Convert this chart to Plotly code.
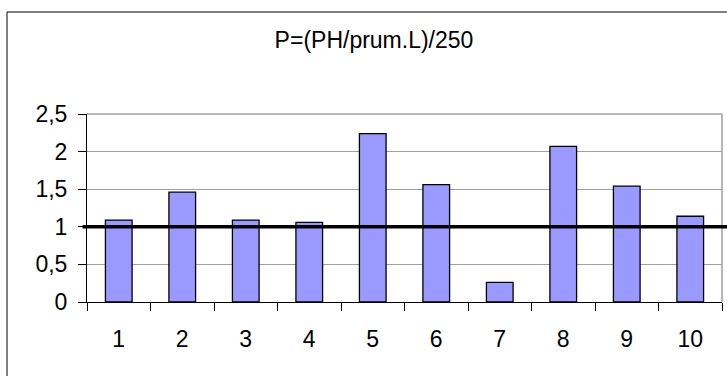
import plotly.graph_objects as go

categories = ["1", "2", "3", "4", "5", "6", "7", "8", "9", "10"]
values = [1.09, 1.46, 1.09, 1.06, 2.24, 1.56, 0.26, 2.07, 1.54, 1.14]
y_ticks = [0, 0.5, 1, 1.5, 2, 2.5]
y_tick_labels = ["0", "0,5", "1", "1,5", "2", "2,5"]
reference_level = 1
title_text = "P=(PH/prum.L)/250"

FONT = "Liberation Sans, Arial, sans-serif"
FS = 23

fig = go.Figure()
fig.add_trace(go.Bar(
    x=categories, y=values,
    marker=dict(color="#9999FF", line=dict(color="black", width=1.3)),
    width=0.42,
))

fig.update_layout(
    width=727, height=376,
    margin=dict(l=87, r=5, t=114, b=74),
    paper_bgcolor="white", plot_bgcolor="white",
    showlegend=False,
    font=dict(family=FONT, size=FS, color="black"),
    title=dict(text=title_text, x=374/727, xref="container", xanchor="center",
               y=1 - 40/376, yref="container", yanchor="middle",
               font=dict(family=FONT, size=FS, color="black")),
    xaxis=dict(type="category", tickson="boundaries", ticks="outside", ticklen=8,
               tickcolor="black", showline=True, linecolor="black", linewidth=1,
               showgrid=False, tickfont=dict(size=FS), ticklabelstandoff=16,
               fixedrange=True),
    yaxis=dict(range=[0, 2.5], tickvals=y_ticks, ticktext=y_tick_labels,
               ticks="outside", ticklen=8, tickcolor="black",
               showline=True, linecolor="black", linewidth=1,
               showgrid=True, gridcolor="#a0a0a0", gridwidth=1,
               zeroline=False, tickfont=dict(size=FS), ticklabelstandoff=6),
)

# plot-area border (grey, top and right)
fig.add_shape(type="line", xref="paper", yref="paper", x0=0, x1=1, y0=1, y1=1,
              line=dict(color="#a0a0a0", width=1.5), layer="below")
fig.add_shape(type="line", xref="paper", yref="paper", x0=1, x1=1, y0=0, y1=1,
              line=dict(color="#a0a0a0", width=1.5), layer="below")

# thick reference line at y = 1
fig.add_shape(type="line", xref="paper", yref="y", x0=-0.007, x1=1.02,
              y0=reference_level, y1=reference_level,
              line=dict(color="black", width=3.5))

# outer chart border (left and top visible)
fig.add_shape(type="line", xref="paper", yref="paper", x0=-80/635, x1=-80/635,
              y0=-1, y1=1 + 102/188, line=dict(color="black", width=1))
fig.add_shape(type="line", xref="paper", yref="paper", x0=-80/635, x1=1.2,
              y0=1 + 102/188, y1=1 + 102/188, line=dict(color="black", width=1))

fig.write_html("out.html")
